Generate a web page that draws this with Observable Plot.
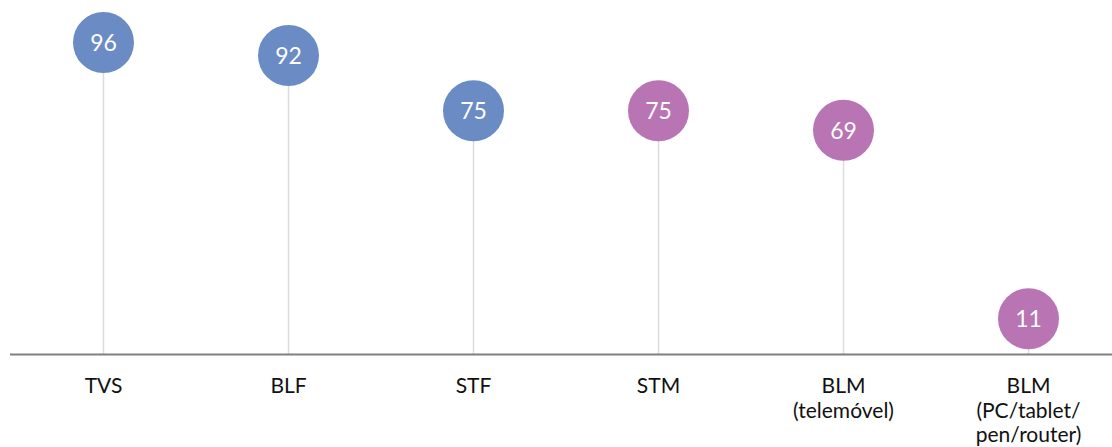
<!DOCTYPE html>
<html>
<head>
<meta charset="utf-8">
<script src="https://cdn.jsdelivr.net/npm/d3@7"></script>
<script src="https://cdn.jsdelivr.net/npm/@observablehq/plot@0.6"></script>
<style>
  html, body { margin: 0; padding: 0; background: #fff; }
  #chart svg { font-family: Lato, sans-serif; display: block; }
</style>
</head>
<body>
<div id="chart"></div>
<script>
const categories = ["TVS", "BLF", "STF", "STM", "BLM (telemóvel)", "BLM (PC/tablet/pen/router)"];
const tickLabels = ["TVS", "BLF", "STF", "STM", "BLM\n(telemóvel)", "BLM\n(PC/tablet/\npen/router)"];
const values = [96, 92, 75, 75, 69, 11];
const groups = ["fixo", "fixo", "fixo", "móvel", "móvel", "móvel"];
const groupColors = {"fixo": "#6b8bc4", "móvel": "#b874b3"};

const data = categories.map((c, i) => ({cat: c, value: values[i], group: groups[i], label: tickLabels[i]}));

const chart = Plot.plot({
  width: 1112,
  height: 447,
  marginLeft: 10,
  marginRight: 0,
  marginTop: 29,
  marginBottom: 93,
  style: {fontFamily: "Lato, sans-serif", background: "#fff"},
  x: {type: "point", domain: categories, range: [102, 1028], padding: 0, label: null},
  y: {domain: [0, 100], axis: null},
  marks: [
    Plot.ruleX(data, {x: "cat", y1: 0, y2: "value", stroke: "#dcdcdc", strokeWidth: 1.5}),
    Plot.ruleY([0], {stroke: "#808080", strokeWidth: 2}),
    Plot.dot(data, {x: "cat", y: "value", r: 30.5, fill: d => groupColors[d.group], stroke: null}),
    Plot.text(data, {x: "cat", y: "value", text: d => String(d.value), fill: "#fff", fontSize: 23, dy: 1}),
    Plot.axisX({
      tickSize: 0,
      tickPadding: 21,
      tickFormat: (d) => tickLabels[categories.indexOf(d)],
      fontSize: 21,
      lineHeight: 1.17,
      fill: "#111",
      label: null
    })
  ]
});
document.getElementById("chart").appendChild(chart);
</script>
</body>
</html>
